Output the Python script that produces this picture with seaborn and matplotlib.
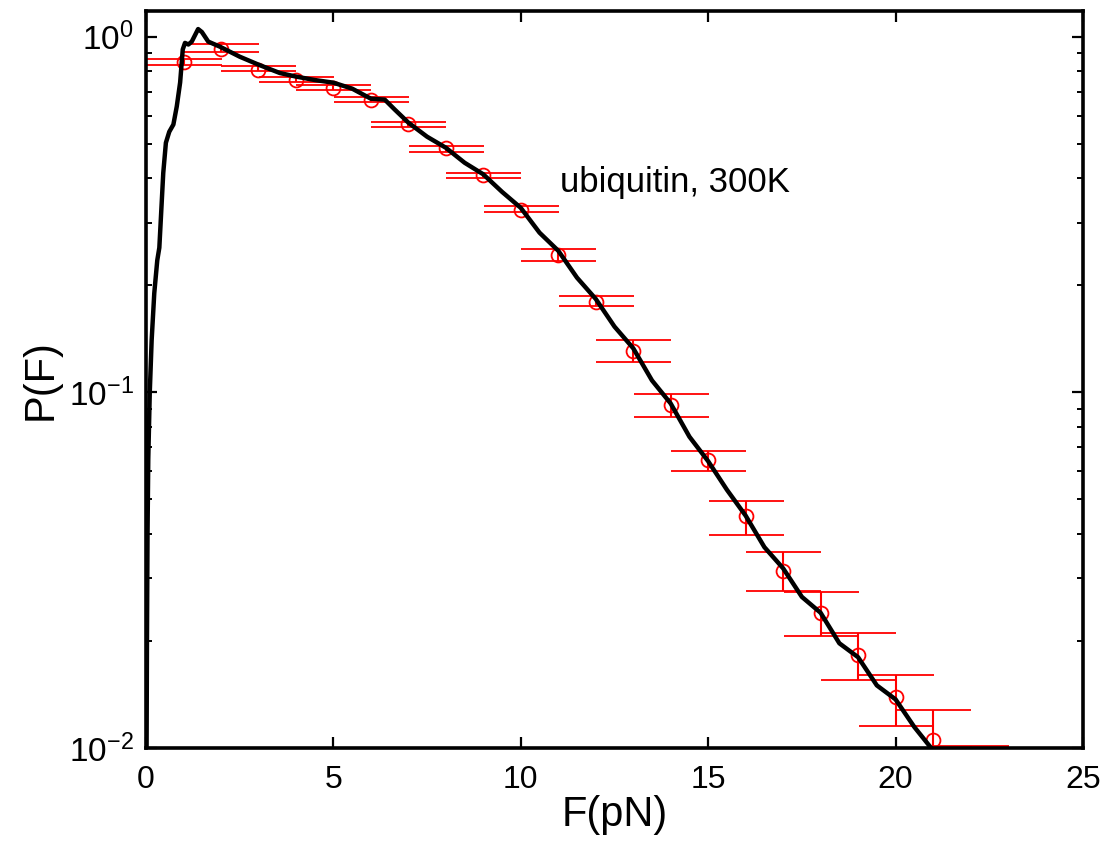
import numpy as np
import matplotlib
matplotlib.use("Agg")
import matplotlib.pyplot as plt
import matplotlib.ticker as mticker
import seaborn as sns
import pandas as pd

# ---- data ----
F_curve = [0.0, 0.015, 0.025, 0.04, 0.06, 0.10, 0.15, 0.22, 0.30, 0.355, 0.46, 0.53,
           0.62, 0.73, 0.82, 0.91, 0.98, 1.04, 1.13, 1.22, 1.39, 1.49, 1.66, 1.97,
           2.5, 3.0, 3.57, 4.0, 4.5, 5.0, 5.5, 6.0, 6.37, 6.64, 7.0, 7.5, 8.0, 8.5,
           9.0, 9.5, 10.0, 10.5, 11.0, 11.5, 12.0, 12.5, 13.0, 13.5, 14.0, 14.5,
           15.0, 15.5, 16.0, 16.5, 17.0, 17.5, 18.0, 18.5, 19.0, 19.5, 20.0, 20.5, 20.95]
P_curve = [0.0090, 0.010, 0.020, 0.040, 0.065, 0.100, 0.140, 0.190, 0.235, 0.255, 0.414, 0.503,
           0.540, 0.566, 0.636, 0.743, 0.920, 0.960, 0.950, 0.968, 1.050, 1.030, 0.968, 0.937,
           0.878, 0.834, 0.790, 0.772, 0.755, 0.742, 0.714, 0.669, 0.665, 0.623, 0.573, 0.523, 0.487, 0.442,
           0.410, 0.366, 0.330, 0.281, 0.250, 0.210, 0.183, 0.153, 0.133, 0.108, 0.093, 0.075,
           0.064, 0.0532, 0.045, 0.0367, 0.032, 0.0266, 0.024, 0.0197, 0.018, 0.0150, 0.0137, 0.01146, 0.0100]

F_pts = [1, 2, 3, 4, 5, 6, 7, 8, 9, 10, 11, 12, 13, 14, 15, 16, 17, 18, 19, 20, 21, 22]
P_pts = [0.850, 0.925, 0.808, 0.753, 0.715, 0.662, 0.567, 0.486, 0.408, 0.326, 0.243, 0.180,
         0.131, 0.0921, 0.0645, 0.0448, 0.0315, 0.0240, 0.0183, 0.0139, 0.0105, 0.0085]
P_lo = [0.831, 0.904, 0.799, 0.745, 0.707, 0.655, 0.557, 0.474, 0.400, 0.321, 0.234, 0.175,
        0.122, 0.0851, 0.0601, 0.0397, 0.0277, 0.0206, 0.0155, 0.0115, 0.0097, 0.0070]
P_hi = [0.866, 0.954, 0.826, 0.771, 0.729, 0.678, 0.575, 0.493, 0.413, 0.333, 0.253, 0.187,
        0.140, 0.0989, 0.0684, 0.0495, 0.0356, 0.0274, 0.0210, 0.0160, 0.0128, 0.0101]

x_ticks = [0, 5, 10, 15, 20, 25]
y_ticks = [0.01, 0.1, 1.0]
label_text = "ubiquitin, 300K"

# ---- style ----
sns.set_style("white")
plt.rcParams['font.family'] = ['Liberation Sans', 'DejaVu Sans']
plt.rcParams['mathtext.default'] = 'regular'
for k in ['text.color', 'axes.labelcolor', 'xtick.color', 'ytick.color', 'axes.edgecolor']:
    plt.rcParams[k] = 'black'

fig = plt.figure(figsize=(11.13, 8.48), dpi=100)
ax = fig.add_axes([0.1312, 0.1179, 0.8418, 0.8691])

P_pts_a = np.array(P_pts)
yerr = [P_pts_a - np.array(P_lo), np.array(P_hi) - P_pts_a]
ax.errorbar(F_pts, P_pts, yerr=yerr, fmt='o', mfc='none', mec='red', color='red',
            ecolor='red', ms=10, mew=1.3, elinewidth=1.5, capsize=27, capthick=1.5,
            zorder=2)

df = pd.DataFrame({"F": F_curve, "P": P_curve})
sns.lineplot(data=df, x="F", y="P", ax=ax, color='black', linewidth=3.2, sort=False,
             estimator=None, zorder=3)

ax.set_yscale('log')
ax.set_xlim(0, 25)
ax.set_ylim(0.01, 1.18)
ax.set_xticks(x_ticks)
ax.set_yticks(y_ticks)
ax.yaxis.set_major_formatter(mticker.LogFormatterSciNotation())
ax.yaxis.set_minor_locator(mticker.LogLocator(base=10, subs=np.arange(2, 10)))
ax.yaxis.set_minor_formatter(mticker.NullFormatter())
ax.xaxis.set_minor_locator(mticker.NullLocator())

ax.tick_params(which='both', direction='in', top=True, right=True, bottom=True, left=True,
               color='black', labelcolor='black')
ax.tick_params(which='major', length=8, width=1.6, labelsize=23)
ax.tick_params(axis='x', which='major', pad=12)
ax.tick_params(axis='y', which='major', pad=9, labelsize=24)
ax.tick_params(which='minor', length=4, width=1.4)
for s in ax.spines.values():
    s.set_linewidth(2.6)
    s.set_color('black')

ax.set_xlabel("F(pN)", fontsize=30, labelpad=0, color='black')
ax.set_ylabel("P(F)", fontsize=30, labelpad=6, color='black')
ax.text(11.05, 0.388, label_text, fontsize=25, va='center', ha='left', color='black')

fig.savefig("out.png", dpi=100)
